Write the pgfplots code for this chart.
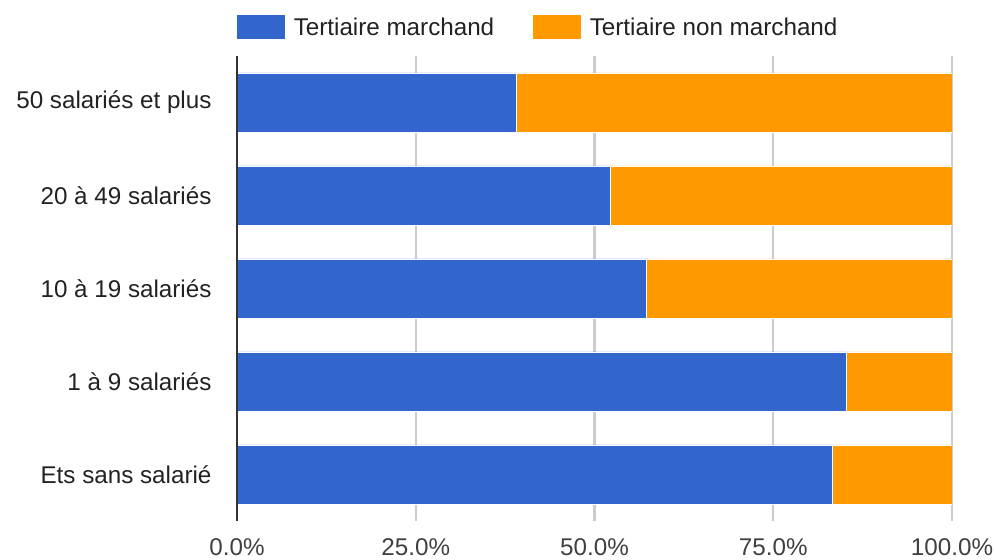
\documentclass[border=0pt]{standalone}
\usepackage{fontspec}
\setmainfont{Liberation Sans}
\usepackage{pgfplots}
\pgfplotsset{compat=1.18}
\definecolor{gblue}{HTML}{3366CC}
\definecolor{gorange}{HTML}{FF9900}
\definecolor{txt}{HTML}{222222}

\begin{document}
\begin{tikzpicture}
\useasboundingbox (-237bp,-39bp) rectangle (757bp,521bp); % page frame 994x560
\begin{axis}[
 at={(0,0)}, anchor=south west,
 xbar stacked,
 scale only axis,
 width=715bp, height=465bp,
 xmin=0, xmax=100,
 ymin=-0.5, ymax=4.5,
 bar width=59bp,
 ytick={0,1,2,3,4},
 yticklabels={Ets sans salarié,1 à 9 salariés,10 à 19 salariés,20 à 49 salariés,50 salariés et plus},
 xtick={0,25,50,75,100},
 xticklabels={0.0\%,25.0\%,50.0\%,75.0\%,100.0\%},
 /pgf/number format/assume math mode=true,
 font=\fontsize{24.3}{28}\selectfont,
 tick label style={color=txt},
 xticklabel style={color=black!75, yshift=-14bp},
 yticklabel style={xshift=-22bp},
 major tick length=0pt,
 xmajorgrids,
 grid style={line width=2.2bp, color=black!20},
 axis lines*=left,
 x axis line style={draw=none},
 y axis line style={line width=2.2bp, color=black!80},
 legend style={draw=none, fill=none, at={(0,1)}, anchor=south west,
   yshift=14bp, xshift=-4bp, legend columns=2, text=txt,
   /tikz/every odd column/.append style={column sep=6bp},
   /tikz/every even column/.append style={column sep=36bp}},
 legend image code/.code={\fill[#1] (0bp,-12.5bp) rectangle (49bp,12.5bp);},
]
\addplot[fill=gblue, draw=white, line width=0.6bp] coordinates {
 (83.2,0) (85.2,1) (57.2,2) (52.2,3) (39.0,4)};
\addplot[fill=gorange, draw=white, line width=0.6bp] coordinates {
 (16.8,0) (14.8,1) (42.8,2) (47.8,3) (61.0,4)};
\legend{Tertiaire marchand,Tertiaire non marchand}
\end{axis}
\draw[line width=2.2bp, black!80] (0,0) -- (0,465bp);
\end{tikzpicture}
\end{document}
